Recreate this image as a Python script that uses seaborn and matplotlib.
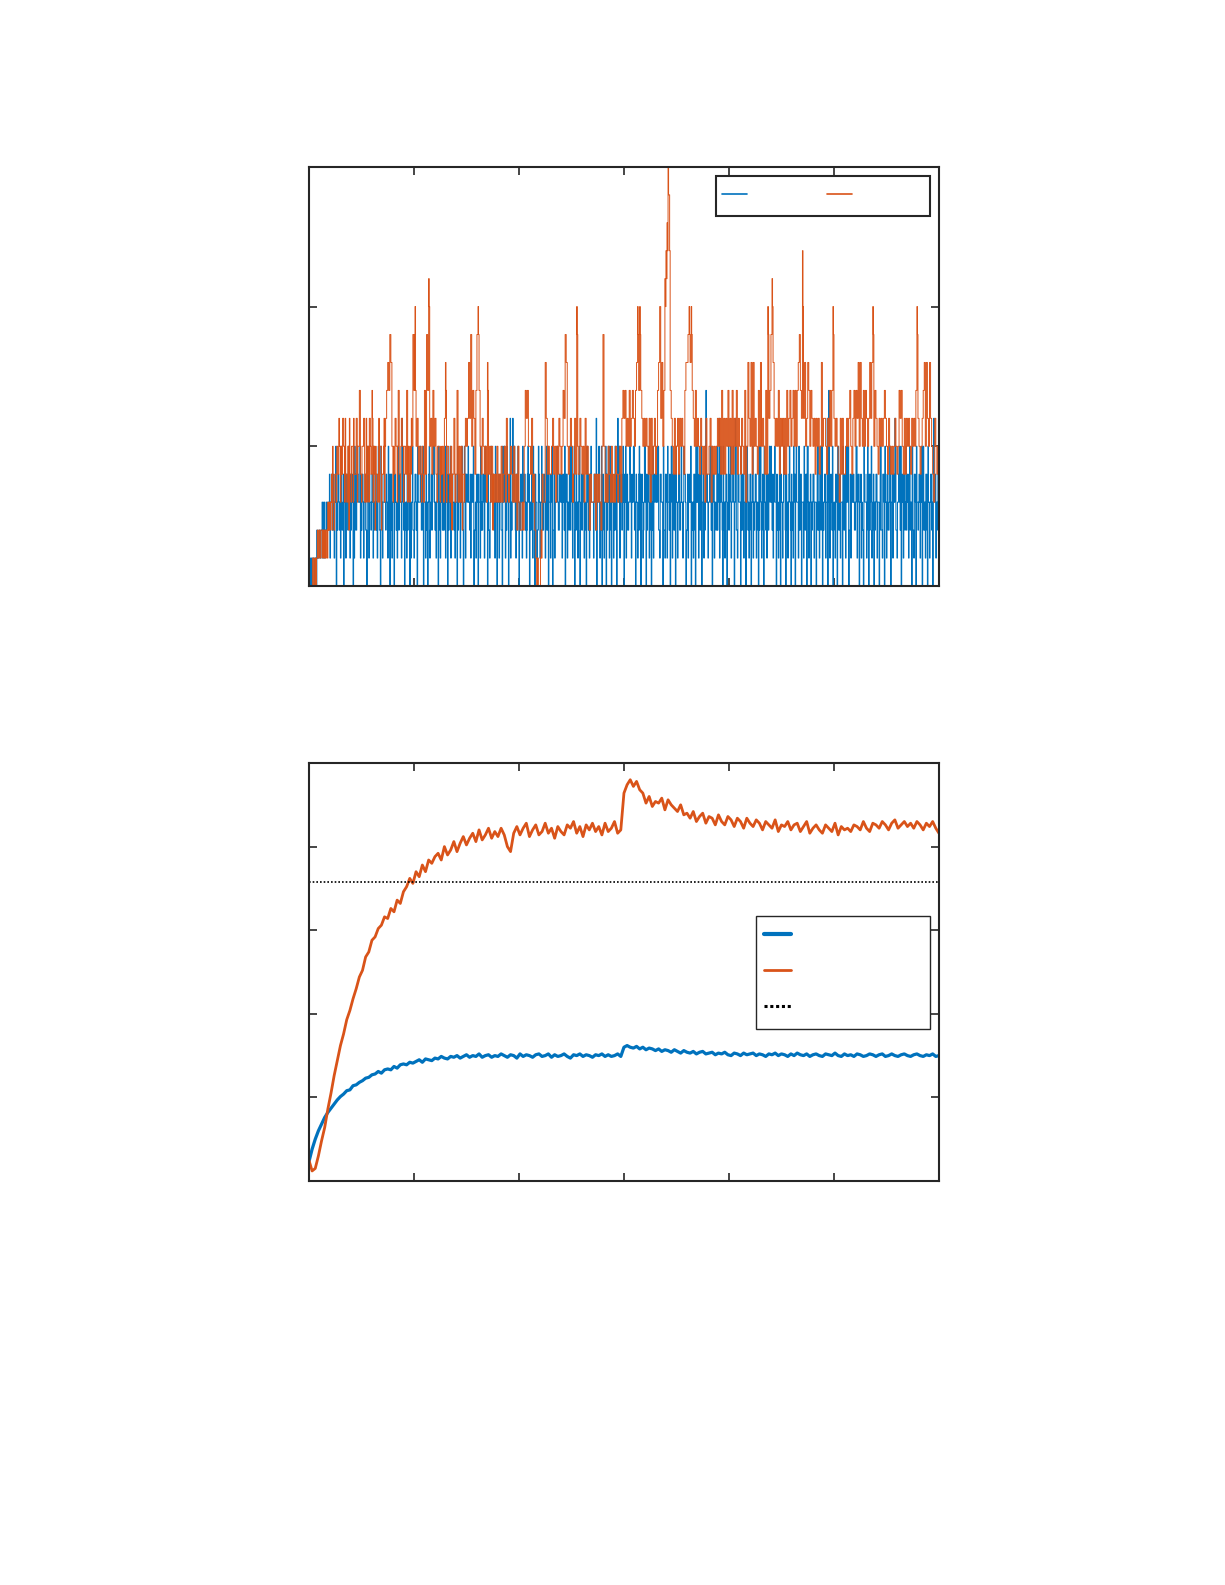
import numpy as np
import pandas as pd
import matplotlib
matplotlib.use("Agg")
import matplotlib.pyplot as plt
from matplotlib.lines import Line2D
import seaborn as sns

# ---------------- data: top panel (integer counts, two samples per time unit) ----------------
# samples at t = 0, 1, 2, ... (even half-steps)
count_blue_even = (
    "00101010112121312323" "13241302421320314231" "23014253312413205132"
    "41232152041332314021" "30421543142031240132" "14203352403120413245"
    "21403142231502413321" "30241320514332143021" "40312241530214432140"
    "31420351240312643125" "02413421430251403124" "13224152031402135324"
    "31420413425140321403" "24130521433142035120" "41302514031240631425"
    "03142341352031420413" "50241302143452143021" "41320514203142331540"
    "21430214035142031274" "13520413224153021403" "24135062143024130521"
    "40312413025140321443" "52143021403154021430" "21405312403142051302"
    "41304215302413071420" "31405213042153021433" "25140312043150241302"
    "41305214031425031462" "13520413324153021403" "24130521403142063125"
)
# samples at t = 0.5, 1.5, 2.5, ... (odd half-steps)
count_blue_odd = (
    "01011012121231323234" "34423534335243443534" "34352443534334253433"
    "35343442533434352443" "43335243634235343352" "34353342533433524353"
    "33452334253343534334" "35343523443534335234" "34353435334235343533"
    "43325343533634352433" "34353432543325343253" "35343325343524335243"
    "43353432543352433524" "34325342533436343352" "33543352433524353433"
    "45233534353432543325" "34352435343352433524" "35343532453342533432"
    "43353342533425343533" "34353432536342533425" "35343352433524353432"
    "43533432543325343253" "34353432543352433524" "35343352433524533433"
    "43325342533436343352" "34352433524335243342" "35343432533424352433"
    "43325243534235343352" "34353342533423524353" "33452334253343534334"
)
count_orange_even = (
    "0000101121" "2121221232" "2323243545" "3465343524" "3534463574"
    "3563435364" "7352434352" "4536787985" "3465374365" "3547353459"
    "7a56454353" "7497b56475" "6435434536" "8354352463" "4735352436"
    "5686957647" "9a75465453" "8453523435" "3435345364" "3454353425"
    "3223257675" "5463421010" "0243386454" "4564535465" "4576985456"
    "53464a5465" "4536454243" "3342434325" "9534354353" "4354345367"
    "6756575676" "578a7a7656" "5654636456" "4578a6857b" "cdfe765464"
    "5646565478" "89a8a76575" "6546545364" "4563545456" "5647464657"
    "5647465746" "5465473586" "5848565475" "8565474a67" "9b86565746"
    "5646475675" "6757578976" "c685687576" "5646564585" "665465757a"
    "6565436464" "4565675467" "5768586575" "7656868a57" "6546565676"
    "5465454565" "4576754646" "565465657a" "6545678586" "5865436545"
)
count_orange_odd = (
    "0001010112" "1222112123" "3453445465" "5465643564" "5564465574"
    "5563645654" "6545436554" "4656787985" "5465574565" "5547545659"
    "9756454543" "7497a56475" "6455454536" "7554354463" "4735354456"
    "5686957647" "9975465453" "7453543435" "3435345364" "3454353425"
    "3223257675" "5463421100" "1143386454" "4564535465" "4576985456"
    "5346494465" "4536454243" "3342434325" "9534354353" "4354345367"
    "6756575676" "5789797656" "5654636456" "4578a6857a" "bcec765464"
    "5646565478" "8998976575" "6546545364" "4563545456" "5647464657"
    "5647465746" "5465473586" "5848565475" "8565474967" "9a86565746"
    "5646475675" "6757578976" "a685687576" "5646564585" "6654657579"
    "6565436464" "4565675467" "5768586575" "7656868957" "6546565676"
    "5465454565" "4576754646" "5654656579" "6545678586" "5865436545"
)

# ---------------- data: bottom panel (sampled every 3 time units) ----------------
series_blue = [
    0.23, 0.38, 0.50, 0.60, 0.68, 0.76, 0.82, 0.87, 0.92, 0.97, 1.01,
    1.04, 1.08, 1.09, 1.14, 1.15, 1.18, 1.20, 1.23, 1.24, 1.27,
    1.28, 1.31, 1.29, 1.33, 1.34, 1.33, 1.37, 1.35, 1.39, 1.40,
    1.39, 1.42, 1.41, 1.43, 1.45, 1.42, 1.46, 1.45, 1.44, 1.47,
    1.46, 1.49, 1.47, 1.46, 1.49, 1.48, 1.50, 1.47, 1.49, 1.51,
    1.48, 1.50, 1.49, 1.52, 1.48, 1.50, 1.51, 1.48, 1.50, 1.49,
    1.52, 1.50, 1.48, 1.51, 1.50, 1.47, 1.52, 1.49, 1.51, 1.50,
    1.48, 1.51, 1.52, 1.49, 1.50, 1.52, 1.48, 1.51, 1.49, 1.50,
    1.52, 1.49, 1.47, 1.51, 1.50, 1.52, 1.49, 1.51, 1.50, 1.48,
    1.51, 1.50, 1.52, 1.49, 1.51, 1.49, 1.50, 1.52, 1.49, 1.60,
    1.62, 1.60, 1.59, 1.61, 1.58, 1.60, 1.57, 1.59, 1.58, 1.56,
    1.58, 1.55, 1.57, 1.56, 1.54, 1.57, 1.55, 1.53, 1.56, 1.54,
    1.53, 1.55, 1.52, 1.54, 1.55, 1.52, 1.53, 1.54, 1.51, 1.53,
    1.52, 1.54, 1.51, 1.50, 1.53, 1.52, 1.50, 1.53, 1.51, 1.52,
    1.53, 1.50, 1.52, 1.51, 1.49, 1.52, 1.51, 1.53, 1.50, 1.52,
    1.51, 1.49, 1.52, 1.50, 1.53, 1.51, 1.50, 1.52, 1.49, 1.51,
    1.52, 1.50, 1.49, 1.52, 1.51, 1.50, 1.53, 1.50, 1.49, 1.52,
    1.50, 1.51, 1.49, 1.52, 1.51, 1.49, 1.50, 1.52, 1.51, 1.49,
    1.51, 1.52, 1.49, 1.50, 1.52, 1.50, 1.49, 1.51, 1.52, 1.50,
    1.49, 1.51, 1.52, 1.50, 1.49, 1.51, 1.50, 1.52, 1.49, 1.50,
]
series_orange = [
    0.25, 0.12, 0.15, 0.30, 0.48, 0.64, 0.86, 1.05, 1.26, 1.44, 1.62,
    1.76, 1.93, 2.04, 2.18, 2.30, 2.44, 2.52, 2.68, 2.74, 2.88,
    2.92, 3.02, 3.06, 3.16, 3.14, 3.26, 3.22, 3.36, 3.32, 3.46,
    3.52, 3.62, 3.56, 3.70, 3.64, 3.78, 3.70, 3.84, 3.80, 3.88,
    3.92, 3.84, 4.00, 3.90, 3.96, 4.06, 3.94, 4.04, 4.12, 4.02,
    4.10, 4.16, 4.06, 4.20, 4.08, 4.14, 4.22, 4.10, 4.18, 4.12,
    4.22, 4.14, 4.00, 3.94, 4.16, 4.24, 4.14, 4.22, 4.28, 4.12,
    4.20, 4.26, 4.14, 4.18, 4.28, 4.16, 4.22, 4.10, 4.24, 4.18,
    4.14, 4.26, 4.22, 4.30, 4.16, 4.24, 4.12, 4.26, 4.20, 4.28,
    4.18, 4.24, 4.14, 4.28, 4.18, 4.22, 4.30, 4.16, 4.20, 4.64,
    4.74, 4.80, 4.72, 4.78, 4.68, 4.64, 4.52, 4.60, 4.48, 4.54,
    4.52, 4.58, 4.44, 4.56, 4.50, 4.46, 4.42, 4.50, 4.38, 4.40,
    4.34, 4.42, 4.30, 4.36, 4.40, 4.28, 4.36, 4.34, 4.26, 4.38,
    4.30, 4.26, 4.36, 4.32, 4.24, 4.34, 4.30, 4.22, 4.34, 4.28,
    4.24, 4.32, 4.28, 4.20, 4.30, 4.26, 4.22, 4.32, 4.18, 4.26,
    4.24, 4.30, 4.20, 4.26, 4.28, 4.18, 4.24, 4.30, 4.16, 4.22,
    4.26, 4.20, 4.16, 4.26, 4.22, 4.18, 4.28, 4.14, 4.24, 4.20,
    4.22, 4.18, 4.26, 4.24, 4.20, 4.30, 4.22, 4.18, 4.28, 4.26,
    4.22, 4.30, 4.26, 4.20, 4.28, 4.32, 4.22, 4.26, 4.30, 4.24,
    4.28, 4.22, 4.30, 4.26, 4.20, 4.28, 4.24, 4.30, 4.22, 4.16,
]
reference_level = 3.58
sample_step = 3


def merge_halfsteps(even, odd, base):
    vals = []
    for a, b in zip(even, odd):
        vals.append(int(a, base))
        vals.append(int(b, base))
    return vals


count_blue = merge_halfsteps(count_blue_even, count_blue_odd, 10)
count_orange = merge_halfsteps(count_orange_even, count_orange_odd, 16)

BLUE = "#0072BD"
ORANGE = "#D95319"
AXC = "#262626"

sns.set_theme(style="white")
plt.rcParams["font.family"] = ["DejaVu Sans"]

fig = plt.figure(figsize=(12.25, 15.85), dpi=100)
ax1 = fig.add_axes([0.2522, 0.6303, 0.5143, 0.2644])
ax2 = fig.add_axes([0.2522, 0.2549, 0.5143, 0.2637])

# ---------------- top panel ----------------
df_top = pd.DataFrame({"t": np.arange(len(count_blue)) * 0.5, "blue": count_blue})
df_top_o = pd.DataFrame({"t": np.arange(len(count_orange)) * 0.5, "orange": count_orange})
sns.lineplot(data=df_top, x="t", y="blue", ax=ax1, color=BLUE, lw=0.75,
             drawstyle="steps-post", estimator=None, sort=False)
sns.lineplot(data=df_top_o, x="t", y="orange", ax=ax1, color=ORANGE, lw=0.7,
             drawstyle="steps-post", estimator=None, sort=False)
ax1.set_xlim(0, 600)
ax1.set_ylim(0, 15)
ax1.set_xticks(np.arange(0, 601, 100))
ax1.set_yticks([0, 5, 10, 15])

h_top = [Line2D([], [], color=BLUE, lw=1.2), Line2D([], [], color=ORANGE, lw=1.2)]
leg1 = ax1.legend(h_top, ["", ""], ncol=2, loc="upper right",
                  bbox_to_anchor=(0.9857, 0.9785), borderaxespad=0,
                  fontsize=20, borderpad=0.216, handlelength=0.9,
                  handletextpad=2.59, columnspacing=0.29, fancybox=False,
                  framealpha=1, edgecolor=AXC)
leg1.get_frame().set_linewidth(1.5)

# ---------------- bottom panel ----------------
t2 = np.arange(len(series_blue)) * sample_step
df_bot = pd.DataFrame({"t": t2, "blue": series_blue,
                       "orange": series_orange[:len(t2)]})
sns.lineplot(data=df_bot, x="t", y="blue", ax=ax2, color=BLUE, lw=2.3,
             estimator=None, sort=False)
sns.lineplot(data=df_bot, x="t", y="orange", ax=ax2, color=ORANGE, lw=2.0,
             estimator=None, sort=False)
ax2.axhline(reference_level, color="black", ls=(0, (1, 1.2)), lw=1.2)
ax2.set_xlim(0, 600)
ax2.set_ylim(0, 5)
ax2.set_xticks(np.arange(0, 601, 100))
ax2.set_yticks([0, 1, 2, 3, 4, 5])

h_bot = [Line2D([], [], color=BLUE, lw=3.0),
         Line2D([], [], color=ORANGE, lw=2.0),
         Line2D([], [], color="black", lw=2.2, ls=(0, (1, 0.9)))]
leg2 = ax2.legend(h_bot, ["", "", ""], loc="upper right",
                  bbox_to_anchor=(0.9857, 0.634), borderaxespad=0,
                  fontsize=19.75, borderpad=0.28, labelspacing=0.36,
                  handlelength=0.985, handletextpad=4.8, fancybox=False,
                  framealpha=1, edgecolor=AXC)
leg2.get_frame().set_linewidth(1.0)

for ax in (ax1, ax2):
    ax.set_xlabel("")
    ax.set_ylabel("")
    ax.tick_params(direction="in", length=6, width=1.2, color=AXC,
                   top=True, right=True, bottom=True, left=True,
                   labelbottom=False, labelleft=False)
    for s in ax.spines.values():
        s.set_linewidth(1.5)
        s.set_color(AXC)
    ax.grid(False)

fig.savefig("out.png", dpi=100, facecolor="white")
